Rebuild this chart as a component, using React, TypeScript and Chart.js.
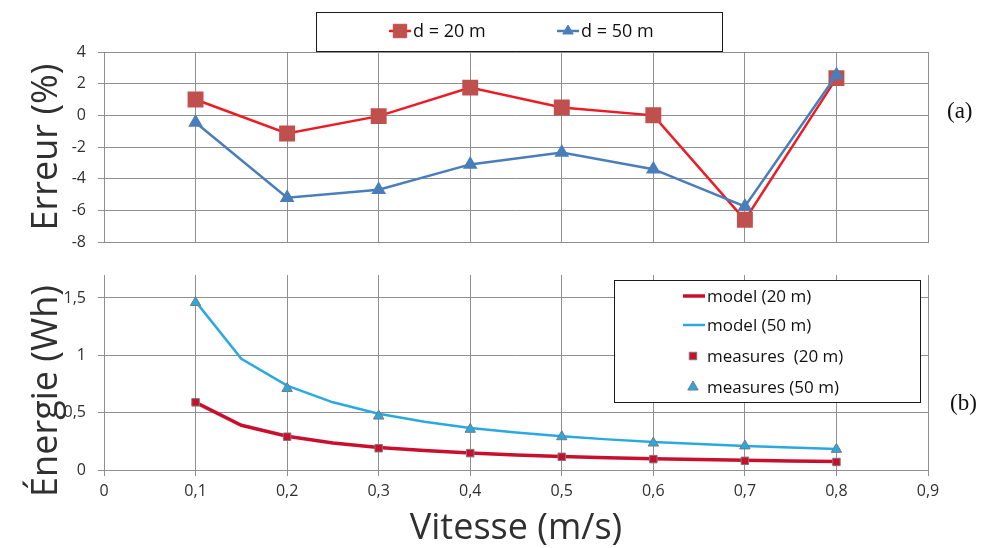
import React, { useEffect, useRef } from 'react';
import { Chart, registerables } from 'chart.js';

Chart.register(...registerables);

// ---------- data ----------
const speeds = [0.1, 0.2, 0.3, 0.4, 0.5, 0.6, 0.7, 0.8];
const errD20 = [1.0, -1.15, -0.05, 1.75, 0.5, 0.0, -6.6, 2.35];
const errD50 = [-0.45, -5.2, -4.7, -3.1, -2.35, -3.4, -5.75, 2.55];

const modelSpeeds = [0.1, 0.15, 0.2, 0.25, 0.3, 0.35, 0.4, 0.45, 0.5, 0.55, 0.6, 0.65, 0.7, 0.75, 0.8];
const model20 = [0.59, 0.39, 0.295, 0.236, 0.197, 0.169, 0.148, 0.131, 0.118, 0.107, 0.098, 0.091, 0.084, 0.079, 0.074];
const model50 = [1.47, 0.97, 0.735, 0.59, 0.49, 0.42, 0.367, 0.327, 0.294, 0.267, 0.245, 0.226, 0.21, 0.196, 0.184];
const meas20 = [0.59, 0.29, 0.19, 0.147, 0.115, 0.095, 0.08, 0.07];
const meas50 = [1.46, 0.71, 0.47, 0.355, 0.29, 0.235, 0.21, 0.18];

const xTickValues = [0, 0.1, 0.2, 0.3, 0.4, 0.5, 0.6, 0.7, 0.8, 0.9];
const xTickLabels = ['0', '0,1', '0,2', '0,3', '0,4', '0,5', '0,6', '0,7', '0,8', '0,9'];
const errTickValues = [-8, -6, -4, -2, 0, 2, 4];
const errTickLabels = ['-8', '-6', '-4', '-2', '0', '2', '4'];
const energyTickValues = [0, 0.5, 1, 1.5];
const energyTickLabels = ['0', '0,5', '1', '1,5'];

const seriesLabels = ['d = 20 m', 'd = 50 m'];
const energyLabels = ['model (20 m)', 'model (50 m)', 'measures  (20 m)', 'measures (50 m)'];
const xTitle = 'Vitesse (m/s)';
const errTitle = 'Erreur (%)';
const energyTitle = 'Énergie (Wh)';

// ---------- styles ----------
const FONT = '"Open Sans", "Noto Sans", sans-serif';
const GRID = '#8f8f8f';
const TEXT = '#303030';
const RED_LINE = '#ec1c24';
const RED_MARK = '#c0504d';
const BLUE = '#4a7ebb';
const DARK_RED = '#c8102e';
const CYAN = '#2aa9e0';

const toXY = (xs: number[], ys: number[]) => xs.map((x, i) => ({ x, y: ys[i] }));

const fixedTicks = (values: number[]) => (scale: any) => {
  scale.ticks = values.map((v) => ({ value: v }));
};
const labelFor = (values: number[], labels: string[]) => (value: any) => {
  const i = values.findIndex((v) => Math.abs(v - Number(value)) < 1e-6);
  return i >= 0 ? labels[i] : '';
};
const fixWidth = (w: number) => (s: any) => {
  s.width = w;
  s.paddingTop = 0;
  s.paddingBottom = 0;
};
const fixHeight = (h: number) => (s: any) => {
  s.height = h;
};

function drawMarker(ctx: CanvasRenderingContext2D, style: string, x: number, y: number, r: number, fill: string, stroke: string) {
  ctx.beginPath();
  if (style === 'rect') {
    const s = Math.SQRT1_2 * r;
    ctx.rect(x - s, y - s, 2 * s, 2 * s);
  } else {
    const h = r * 1.5;
    const w = r * Math.sqrt(3);
    ctx.moveTo(x, y - h * 2 / 3);
    ctx.lineTo(x + w / 2, y + h / 3);
    ctx.lineTo(x - w / 2, y + h / 3);
    ctx.closePath();
  }
  ctx.fillStyle = fill;
  ctx.fill();
  ctx.strokeStyle = stroke;
  ctx.lineWidth = 1;
  ctx.stroke();
}

const overlay = {
  id: 'overlay',
  afterDraw(chart: any, _args: any, opts: any) {
    const ctx: CanvasRenderingContext2D = chart.ctx;
    ctx.save();
    if (opts.box) {
      const b = opts.box;
      ctx.fillStyle = '#ffffff';
      ctx.fillRect(b.x, b.y, b.w, b.h);
      ctx.strokeStyle = '#1a1a1a';
      ctx.lineWidth = 1;
      ctx.strokeRect(b.x + 0.5, b.y + 0.5, b.w, b.h);
    }
    (opts.items || []).forEach((it: any) => {
      const ds = chart.data.datasets[it.ds];
      if (it.line) {
        ctx.beginPath();
        ctx.strokeStyle = ds.borderColor;
        ctx.lineWidth = ds.borderWidth;
        ctx.moveTo(it.x - 11, it.y);
        ctx.lineTo(it.x + 11, it.y);
        ctx.stroke();
      }
      if (it.marker) {
        drawMarker(ctx, ds.pointStyle, it.x, it.y, ds.pointRadius, ds.pointBackgroundColor, ds.pointBorderColor);
      }
      ctx.fillStyle = '#111111';
      ctx.font = it.font;
      ctx.textAlign = 'left';
      ctx.textBaseline = 'middle';
      ctx.fillText(ds.label, it.tx, it.y + 1);
    });
    if (opts.yTitle) {
      const t = opts.yTitle;
      ctx.save();
      ctx.translate(t.x, t.y);
      ctx.rotate(-Math.PI / 2);
      ctx.font = `36px ${FONT}`;
      ctx.fillStyle = TEXT;
      ctx.textAlign = 'center';
      ctx.textBaseline = 'middle';
      ctx.fillText(t.text, 0, 0);
      ctx.restore();
    }
    if (opts.side) {
      const s = opts.side;
      ctx.font = '23px "Liberation Serif", "DejaVu Serif", serif';
      ctx.fillStyle = '#111111';
      ctx.textAlign = 'left';
      ctx.textBaseline = 'middle';
      ctx.fillText(s.text, s.x, s.y);
    }
    ctx.restore();
  },
};

export default function App() {
  const topRef = useRef<HTMLCanvasElement>(null);
  const botRef = useRef<HTMLCanvasElement>(null);

  useEffect(() => {
    const topChart = new Chart(topRef.current as HTMLCanvasElement, {
      type: 'line',
      data: {
        datasets: [
          {
            label: seriesLabels[0],
            data: toXY(speeds, errD20),
            borderColor: RED_LINE,
            borderWidth: 2.5,
            pointStyle: 'rect',
            pointRadius: 9.5,
            pointBackgroundColor: RED_MARK,
            pointBorderColor: RED_MARK,
            tension: 0,
            order: 1,
          },
          {
            label: seriesLabels[1],
            data: toXY(speeds, errD50),
            borderColor: BLUE,
            borderWidth: 2.5,
            pointStyle: 'triangle',
            pointRadius: 6,
            pointBackgroundColor: BLUE,
            pointBorderColor: BLUE,
            tension: 0,
            order: 0,
          },
        ],
      } as any,
      options: {
        responsive: false,
        animation: false,
        devicePixelRatio: 1,
        layout: { padding: { left: 0, right: 58, top: 52, bottom: 0 } },
        plugins: {
          legend: { display: false },
          tooltip: { enabled: false },
          overlay: {
            box: { x: 316, y: 12, w: 406, h: 39 },
            items: [
              { ds: 0, x: 400, y: 31, tx: 413, line: true, marker: true, font: `18px ${FONT}` },
              { ds: 1, x: 568, y: 31, tx: 581, line: true, marker: true, font: `18px ${FONT}` },
            ],
            yTitle: { text: errTitle, x: 47, y: 147 },
            side: { text: '(a)', x: 947, y: 112 },
          },
        } as any,
        scales: {
          x: {
            type: 'linear',
            min: 0,
            max: 0.9,
            afterBuildTicks: fixedTicks(xTickValues),
            afterFit: fixHeight(18),
            ticks: { display: false },
            grid: { color: GRID, drawTicks: false, lineWidth: 1 },
            border: { color: GRID },
          },
          y: {
            min: -8,
            max: 4,
            afterBuildTicks: fixedTicks(errTickValues),
            afterFit: fixWidth(104),
            ticks: {
              callback: labelFor(errTickValues, errTickLabels),
              font: { family: FONT, size: 16 },
              color: TEXT,
              padding: 12,
            },
            grid: { color: GRID, tickLength: 6, lineWidth: 1 },
            border: { color: GRID },
          },
        },
      } as any,
      plugins: [overlay as any],
    });

    const botChart = new Chart(botRef.current as HTMLCanvasElement, {
      type: 'line',
      data: {
        datasets: [
          {
            label: energyLabels[0],
            data: toXY(modelSpeeds, model20),
            borderColor: DARK_RED,
            borderWidth: 3.5,
            pointRadius: 0,
            pointStyle: 'line',
            tension: 0,
            order: 3,
          },
          {
            label: energyLabels[1],
            data: toXY(modelSpeeds, model50),
            borderColor: CYAN,
            borderWidth: 2.5,
            pointRadius: 0,
            pointStyle: 'line',
            tension: 0,
            order: 2,
          },
          {
            label: energyLabels[2],
            data: toXY(speeds, meas20),
            showLine: false,
            pointStyle: 'rect',
            pointRadius: 5.3,
            pointBackgroundColor: DARK_RED,
            pointBorderColor: '#7a7a7a',
            pointBorderWidth: 1,
            order: 1,
          },
          {
            label: energyLabels[3],
            data: toXY(speeds, meas50),
            showLine: false,
            pointStyle: 'triangle',
            pointRadius: 6,
            pointBackgroundColor: CYAN,
            pointBorderColor: '#7a7a7a',
            pointBorderWidth: 1,
            order: 0,
          },
        ],
      } as any,
      options: {
        responsive: false,
        animation: false,
        devicePixelRatio: 1,
        layout: { padding: { left: 0, right: 58, top: 15, bottom: 0 } },
        plugins: {
          legend: { display: false },
          tooltip: { enabled: false },
          overlay: {
            box: { x: 614, y: 20, w: 306, h: 122 },
            items: [
              { ds: 0, x: 694, y: 36, tx: 707, line: true, marker: false, font: `17px ${FONT}` },
              { ds: 1, x: 694, y: 65, tx: 707, line: true, marker: false, font: `17px ${FONT}` },
              { ds: 2, x: 693, y: 96, tx: 707, line: false, marker: true, font: `17px ${FONT}` },
              { ds: 3, x: 693, y: 127, tx: 707, line: false, marker: true, font: `17px ${FONT}` },
            ],
            yTitle: { text: energyTitle, x: 47, y: 131 },
            side: { text: '(b)', x: 950, y: 144 },
          },
        } as any,
        scales: {
          x: {
            type: 'linear',
            min: 0,
            max: 0.9,
            afterBuildTicks: fixedTicks(xTickValues),
            afterFit: fixHeight(78),
            ticks: {
              callback: labelFor(xTickValues, xTickLabels),
              font: { family: FONT, size: 16 },
              color: TEXT,
              padding: 6,
              maxRotation: 0,
              autoSkip: false,
            },
            grid: { color: GRID, tickLength: 6, lineWidth: 1 },
            border: { color: GRID },
            title: {
              display: true,
              text: xTitle,
              font: { family: FONT, size: 36, lineHeight: 1.05 },
              color: TEXT,
              padding: { top: 0, bottom: 0 },
            },
          },
          y: {
            min: 0,
            max: 1.7,
            afterBuildTicks: fixedTicks(energyTickValues),
            afterFit: fixWidth(104),
            ticks: {
              callback: labelFor(energyTickValues, energyTickLabels),
              font: { family: FONT, size: 16 },
              color: TEXT,
              padding: 12,
            },
            grid: { color: GRID, tickLength: 6, lineWidth: 1 },
            border: { color: GRID },
          },
        },
      } as any,
      plugins: [overlay as any],
    });

    return () => {
      topChart.destroy();
      botChart.destroy();
    };
  }, []);

  return (
    <div style={{ position: 'absolute', left: 0, top: 0, width: 986, height: 548, background: '#ffffff' }}>
      <canvas ref={topRef} width={986} height={260} style={{ position: 'absolute', left: 0, top: 0, width: 986, height: 260 }} />
      <canvas ref={botRef} width={986} height={288} style={{ position: 'absolute', left: 0, top: 260, width: 986, height: 288 }} />
    </div>
  );
}
